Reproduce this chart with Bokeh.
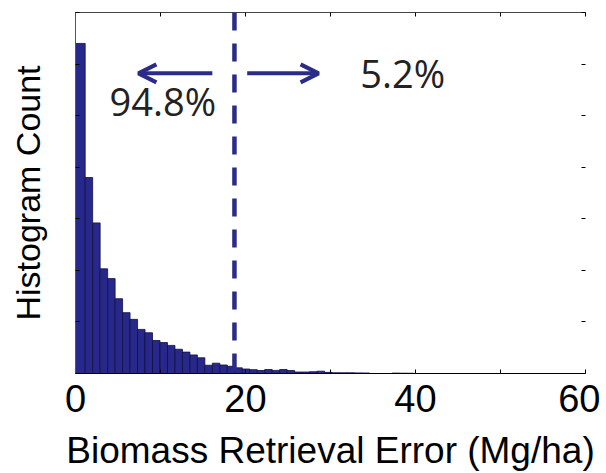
import numpy as np
from bokeh.plotting import figure
from bokeh.models import (Range1d, LinearAxis, FixedTicker, Span, Arrow, OpenHead, Label,
                          ColumnDataSource, CustomJSTickFormatter)
from bokeh.embed import file_html
from bokeh.resources import INLINE

# ---- data ----
counts = [6400, 3800, 2920, 2030, 1840, 1450, 1180, 1050, 855, 790,
          640, 600, 545, 470, 415, 360, 305, 160, 200, 165,
          140, 110, 87, 75, 58, 77, 60, 77, 58, 29,
          29, 35, 45, 22, 15, 14, 14, 12, 10, 0,
          0, 0, 8, 6, 5]
first_edge = 1.14      # upper edge of the first bin (Mg/ha)
bin_width = 0.88       # width of the remaining bins (Mg/ha)
threshold = 18.7       # dashed threshold line (Mg/ha)
pct_below = "94.8%"
pct_above = "5.2%"
x_ticks = [0, 20, 40, 60]
x_minor = [10, 30, 50]
y_ticks = [0, 1000, 2000, 3000, 4000, 5000, 6000, 7000]

n = len(counts)
edges = [0.0] + [first_edge + bin_width * i for i in range(n)]
src = ColumnDataSource(dict(left=edges[:-1], right=edges[1:], top=counts, bottom=[0] * n))

BAR = "#28288C"
DARK = "#2B2B88"
FONT = "Liberation Sans"

p = figure(width=600, height=473, frame_width=510, frame_height=361,
           min_border_left=75, min_border_right=15, min_border_top=12, min_border_bottom=100,
           x_range=Range1d(0, 60), y_range=Range1d(0, 7000),
           output_backend="svg", toolbar_location=None)
p.grid.visible = False
p.outline_line_color = None
p.background_fill_color = "white"
p.border_fill_color = "white"

p.quad(left="left", right="right", top="top", bottom="bottom", source=src,
       fill_color=BAR, line_color="#10103A", line_width=0.8)

# threshold line
p.add_layout(Span(location=threshold, dimension="height", line_color=DARK,
                  line_width=4.5, line_dash="18 13"))

# arrows
arrow_y = 5820
p.add_layout(Arrow(x_start=16.1, y_start=arrow_y, x_end=7.4, y_end=arrow_y,
                   line_color=DARK, line_width=4,
                   end=OpenHead(size=18, line_color=DARK, line_width=4)))
p.add_layout(Arrow(x_start=20.2, y_start=arrow_y, x_end=28.6, y_end=arrow_y,
                   line_color=DARK, line_width=4,
                   end=OpenHead(size=18, line_color=DARK, line_width=4)))

p.add_layout(Label(x=4.0, y=5290, text=pct_below, text_font="Open Sans",
                   text_font_size="38px", text_color="#222222", text_baseline="alphabetic"))
p.add_layout(Label(x=33.5, y=5830, text=pct_above, text_font="Open Sans",
                   text_font_size="38px", text_color="#222222", text_baseline="alphabetic"))

blank = CustomJSTickFormatter(code="return ''")
tick = FixedTicker(ticks=x_ticks, minor_ticks=x_minor)
yt = FixedTicker(ticks=y_ticks, minor_ticks=[])

xa = p.xaxis[0]
xa.ticker = tick
xa.axis_label = "Biomass Retrieval Error (Mg/ha)"
xa.axis_label_text_font = FONT
xa.axis_label_text_font_size = "37px"
xa.axis_label_text_font_style = "normal"
xa.axis_label_text_color = "black"
xa.axis_label_standoff = 15
xa.major_label_text_font = FONT
xa.major_label_text_font_size = "38px"
xa.major_label_text_color = "black"
xa.major_label_standoff = 11
xa.major_tick_in = 4
xa.major_tick_out = 0
xa.minor_tick_in = 4
xa.minor_tick_out = 0
xa.axis_line_color = "black"

ya = p.yaxis[0]
ya.ticker = yt
ya.formatter = blank
ya.axis_label = "Histogram Count"
ya.axis_label_text_font = FONT
ya.axis_label_text_font_size = "34px"
ya.axis_label_text_font_style = "normal"
ya.axis_label_text_color = "black"
ya.axis_label_standoff = 29
ya.major_label_standoff = 0
ya.major_tick_in = 4
ya.major_tick_out = 0
ya.minor_tick_line_color = None
ya.axis_line_color = "#555555"

top = LinearAxis(ticker=FixedTicker(ticks=x_ticks + x_minor, minor_ticks=[]),
                 formatter=blank, major_label_standoff=0,
                 major_tick_in=4, major_tick_out=0, minor_tick_line_color=None,
                 axis_line_color="#444444", axis_label_standoff=0)
p.add_layout(top, "above")

right = LinearAxis(ticker=yt, formatter=blank, major_label_standoff=0,
                   major_tick_in=4, major_tick_out=0, minor_tick_line_color=None,
                   axis_line_color=None, axis_label_standoff=0)
p.add_layout(right, "right")

open("out.html", "w").write(file_html(p, INLINE))
